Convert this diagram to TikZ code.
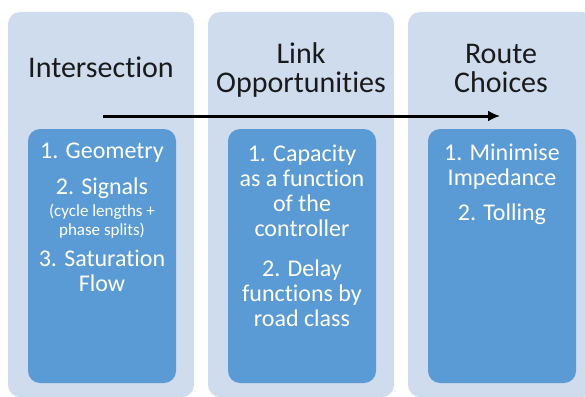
\documentclass[tikz,border=0pt]{standalone}
\usepackage{fontspec}
\setmainfont[Ligatures=CommonOff]{Carlito}
\usetikzlibrary{calc,arrows.meta}

\definecolor{panelblue}{RGB}{207,220,237}
\definecolor{boxblue}{RGB}{91,155,213}
\definecolor{titlegrey}{RGB}{26,26,26}
\newcommand{\smalltext}{\fontsize{17}{19}\selectfont}

\begin{document}
\begin{tikzpicture}[x=1pt,y=-1pt,panel/.style={fill=panelblue,rounded corners=12pt,minimum width=186pt,minimum height=385pt,inner sep=0pt},title/.style={font=\fontsize{30}{28.5}\selectfont,text=titlegrey,align=center,anchor=base,inner sep=0pt},item/.style={fill=boxblue,rounded corners=12pt,minimum width=148pt,minimum height=254pt,inner sep=0pt},itemtext/.style={font=\fontsize{24}{25}\selectfont,text=white,align=center,anchor=base,inner sep=0pt},arrow/.style={-{Latex[length=12pt,width=11pt]},line width=3pt}]
  \clip (0,0) rectangle (585,396);
  % three stages side by side
  \node[panel] (intersection) at (101,204.5) {};
  \node[panel] (link) at ($ (intersection) + (200,0) $) {};
  \node[panel] (route) at ($ (link) + (200,0) $) {};
  % base anchor sits on the last line
  \node[title] (intersectiontitle) at ($ (intersection.north) + (0,66) $) {Intersection};
  \node[title] (linktitle) at ($ (link.north) + (0,80.5) $) {Link\\Opportunities};
  \node[title] (routetitle) at ($ (route.north) + (0,80.5) $) {Route\\Choices};
  % inner boxes with the items
  \node[item] (intersectionitems) at ($ (intersection) + (1,51.5) $) {};
  \node[item] (linkitems) at ($ (link) + (1,51.5) $) {};
  \node[item] (routeitems) at ($ (route) + (1,51.5) $) {};
  \node[itemtext] (intersectionlist) at ($ (intersectionitems.north) + (0,163) $) {1. Geometry\\[10.6pt]2. Signals\\[-3pt]\smalltext(cycle lengths +\\[-6pt]\smalltext phase splits)\\[6.7pt]3. Saturation\\Flow};
  \node[itemtext] (linklist) at ($ (linkitems.north) + (0,198) $) {1. Capacity\\as a function\\of the\\controller\\[15pt]2. Delay\\functions by\\road class};
  \node[itemtext] (routelist) at ($ (routeitems.north) + (0,92) $) {1. Minimise\\Impedance\\[10.6pt]2. Tolling};
  % flow from intersection to route choice
  \coordinate (arrowstart) at ($ (intersection) + (2,-88.5) $);
  \coordinate (arrowend) at ($ (route) + (-1,-88.5) $);
  \draw[arrow] (arrowstart) -- (arrowend);
\end{tikzpicture}
\end{document}
